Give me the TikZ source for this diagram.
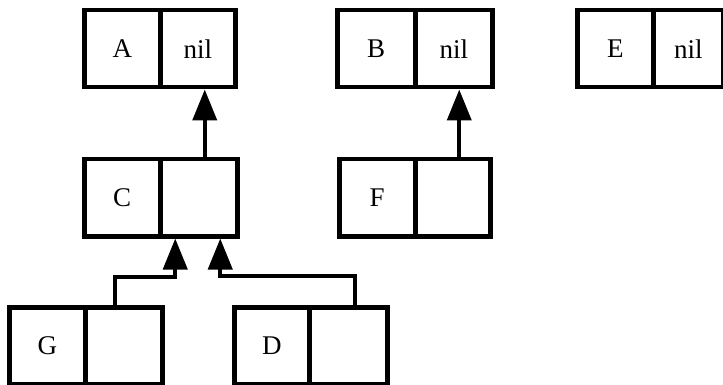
\documentclass[tikz,border=0pt]{standalone}
\usepackage{fontspec}
\setmainfont{Liberation Serif}
\usetikzlibrary{arrows.meta}
\tikzset{
  cell/.style={draw, line width=4.5pt, minimum width=76pt, minimum height=77pt, inner sep=0pt, font=\fontsize{27pt}{30pt}\selectfont, anchor=north west},
  lbl/.style={yshift=-2pt},
  ptr/.style={line width=4pt, -{Triangle[length=31pt,width=24pt]}}
}
\begin{document}
\begin{tikzpicture}[x=1pt,y=-1pt]
\useasboundingbox (0,0) rectangle (723,385);
% top row
\node[cell, minimum width=76pt] (a1) at (82,8) {A};
\node[cell, minimum width=75pt] (a2) at (158,8) {nil};
\node[cell, minimum width=78pt] (b1) at (335,8) {B};
\node[cell, minimum width=77pt] (b2) at (413,8) {nil};
\node[cell, minimum width=76pt] (e1) at (575,8) {E};
\node[cell, minimum width=70pt] (e2) at (651,8) {nil};
% middle row
\node[cell, minimum width=76pt] (c1) at (82,157) {C};
\node[cell, minimum width=77pt] (c2) at (158,157) {};
\node[cell, minimum width=76pt] (f1) at (337,157) {F};
\node[cell, minimum width=75pt] (f2) at (413,157) {};
% bottom row
\node[cell, minimum width=76pt] (g1) at (7,305) {G};
\node[cell, minimum width=77pt] (g2) at (83,305) {};
\node[cell, minimum width=75pt] (d1) at (232,305) {D};
\node[cell, minimum width=78pt] (d2) at (307,305) {};
% connectors
\draw[ptr] ([xshift=6pt]c2.north) -- ([xshift=6pt]c2.north |- a2.south);
\draw[ptr] ([xshift=6.5pt]f2.north) -- ([xshift=6.5pt]f2.north |- b2.south);
\coordinate (gk) at ([xshift=-8.5pt,yshift=28pt]g2.north);
\coordinate (dk) at ([xshift=7pt,yshift=29pt]d2.north);
\draw[ptr] ([xshift=-8.5pt]g2.north) -- (gk) -| ([xshift=-23.5pt]c2.south);
\draw[ptr] ([xshift=7pt]d2.north) -- (dk) -| ([xshift=21.5pt]c2.south);
\end{tikzpicture}
\end{document}
